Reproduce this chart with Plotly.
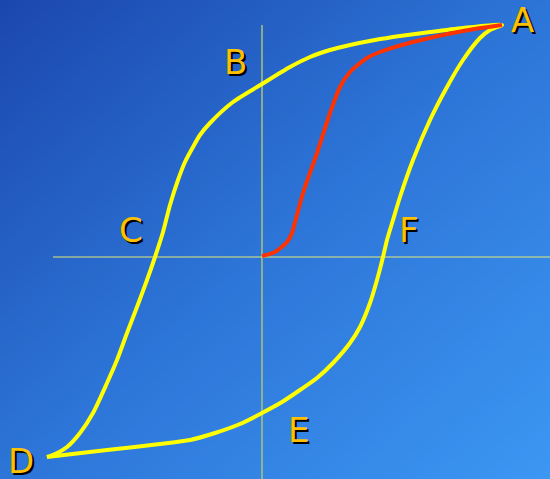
import plotly.graph_objects as go

# Hysteresis loop, in picture coordinates (x right, y down)
upper_x = [502, 463, 430, 400, 375, 350, 330, 310, 290, 262, 233, 210, 200, 193, 185, 178, 170, 163, 155, 147, 137, 127, 117, 107, 93, 80, 67, 55, 47]
upper_y = [25, 28, 32, 36, 40, 45, 50, 57, 67, 84, 102, 123, 135, 147, 162, 180, 205, 232, 257, 280, 307, 333, 360, 383, 413, 433, 447, 454, 457]
lower_x = [47, 107, 160, 190, 215, 240, 262, 282, 300, 317, 333, 350, 360, 370, 377, 383, 387, 393, 400, 413, 430, 447, 463, 480, 490, 502]
lower_y = [457, 450, 444, 440, 433, 424, 413, 402, 390, 378, 363, 343, 327, 303, 280, 257, 240, 220, 197, 160, 120, 87, 60, 38, 30, 25]
initial_x = [262, 275, 287, 292, 294, 303, 317, 330, 340, 350, 367, 380, 413, 463, 502]
initial_y = [256, 252, 242, 233, 226, 193, 153, 113, 87, 72, 58, 52, 42, 31, 25]
axis_h_x = [53, 550]
axis_h_y = [257, 257]
axis_v_x = [262, 262]
axis_v_y = [25, 479]
labels = ["A", "B", "C", "D", "E", "F"]
label_x = [522, 235, 131, 21, 298, 409]
label_y = [20, 62, 230, 461, 430, 230]

W, H = 550, 479
fig = go.Figure()

# background gradient
fig.add_trace(go.Heatmap(
    x=[0, W], y=[0, H], z=[[0, 1], [1, 2]], zsmooth="best",
    colorscale=[[0, "#1B47AD"], [0.5, "#2D75D8"], [1, "#3C97F3"]],
    showscale=False, hoverinfo="skip"))

fig.add_trace(go.Scatter(x=axis_v_x, y=axis_v_y, mode="lines",
                         line=dict(color="#A9C47A", width=1.5), hoverinfo="skip"))
fig.add_trace(go.Scatter(x=axis_h_x, y=axis_h_y, mode="lines",
                         line=dict(color="#E4EA78", width=1.2), hoverinfo="skip"))
fig.add_trace(go.Scatter(x=upper_x + lower_x, y=upper_y + lower_y, mode="lines",
                         line=dict(color="#FFFF00", width=4, shape="spline", smoothing=0.7),
                         hoverinfo="skip"))
fig.add_trace(go.Scatter(x=initial_x, y=initial_y, mode="lines",
                         line=dict(color="#FF3300", width=4, shape="spline", smoothing=0.7),
                         hoverinfo="skip"))

for t, lx, ly in zip(labels, label_x, label_y):
    fig.add_annotation(x=lx, y=ly, text=t, showarrow=False, xshift=2, yshift=-2,
                       font=dict(family="DejaVu Sans", size=34, color="#000000"))
    fig.add_annotation(x=lx, y=ly, text=t, showarrow=False,
                       font=dict(family="DejaVu Sans", size=34, color="#FFC000"))

fig.update_layout(
    width=W, height=H, margin=dict(l=0, r=0, t=0, b=0),
    showlegend=False, plot_bgcolor="#2D75D8", paper_bgcolor="#2D75D8",
    xaxis=dict(range=[0, W], visible=False, fixedrange=True),
    yaxis=dict(range=[H, 0], visible=False, fixedrange=True),
)
fig.write_html("out.html", config={"displayModeBar": False},
               post_script="document.body.style.margin='0';document.body.style.overflow='hidden';")
